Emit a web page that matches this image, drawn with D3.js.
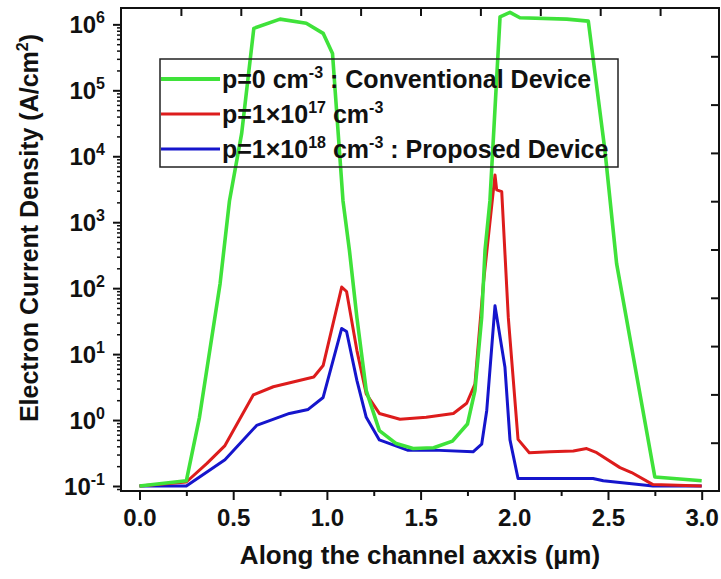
<!DOCTYPE html>
<html>
<head>
<meta charset="utf-8">
<script src="https://cdn.jsdelivr.net/npm/d3@7"></script>
<style>
  body { margin: 0; background: #fff; }
  svg { display: block; font-family: Arial, "Liberation Sans", sans-serif; font-weight: bold; }
</style>
</head>
<body>
<div id="chart"></div>
<script>
// Series data: x in µm, y in A/cm²
const greenX = [0, 0.25, 0.32, 0.43, 0.48, 0.545, 0.61, 0.75, 0.89, 0.98, 1.03, 1.086, 1.12, 1.16, 1.21, 1.28, 1.37, 1.46, 1.57, 1.67, 1.75, 1.79, 1.826, 1.844, 1.87, 1.924, 1.977, 2.03, 2.28, 2.395, 2.484, 2.546, 2.75, 3.0];
const greenY = [0.1, 0.12, 1.1, 117, 2100, 22000, 870000, 1200000, 1040000, 730000, 360000, 2100, 380, 36, 2.8, 0.69, 0.44, 0.37, 0.38, 0.48, 0.87, 2.8, 36, 380, 2100, 1300000, 1520000, 1260000, 1200000, 1120000, 12000, 236, 0.137, 0.12];

const redX = [0, 0.25, 0.36, 0.456, 0.607, 0.714, 0.93, 0.98, 1.079, 1.105, 1.16, 1.21, 1.28, 1.39, 1.53, 1.675, 1.746, 1.79, 1.835, 1.897, 1.906, 1.933, 1.968, 2.02, 2.08, 2.19, 2.315, 2.386, 2.44, 2.564, 2.626, 2.74, 3.0];
const redY = [0.1, 0.115, 0.22, 0.41, 2.4, 3.2, 4.5, 6.7, 104, 89, 11.4, 2.5, 1.26, 1.03, 1.1, 1.26, 1.8, 3.5, 117, 5200, 3100, 2900, 36, 0.51, 0.32, 0.33, 0.34, 0.37, 0.32, 0.19, 0.16, 0.105, 0.1];

const blueX = [0, 0.25, 0.456, 0.625, 0.8, 0.9, 0.98, 1.079, 1.105, 1.16, 1.21, 1.28, 1.43, 1.57, 1.78, 1.826, 1.853, 1.897, 1.95, 1.977, 2.02, 2.42, 2.475, 2.74, 3.0];
const blueY = [0.1, 0.1, 0.25, 0.83, 1.26, 1.45, 2.2, 24.5, 22, 4, 1.1, 0.5, 0.35, 0.35, 0.33, 0.43, 1.4, 54, 6.4, 0.5, 0.13, 0.13, 0.12, 0.1, 0.1];

const xTicks = [0, 0.5, 1.0, 1.5, 2.0, 2.5, 3.0];
const xMinorTicks = [0.25, 0.75, 1.25, 1.75, 2.25, 2.75];
const yExponents = [-1, 0, 1, 2, 3, 4, 5, 6];

const legendItems = [
    { color: "#3fe23a", width: 4, parts: [["p=0 cm", ""], ["-3", "sup"], [" : Conventional Device", ""]] },
    { color: "#dd1c1c", width: 3, parts: [["p=1×10", ""], ["17", "sup"], [" cm", ""], ["-3", "sup"]] },
    { color: "#1515cc", width: 3, parts: [["p=1×10", ""], ["18", "sup"], [" cm", ""], ["-3", "sup"], [" : Proposed Device", ""]] }
];

const W = 721, H = 579;
const margin = { top: 8, right: 1, bottom: 88, left: 121 };
const innerW = W - margin.left - margin.right;
const innerH = H - margin.top - margin.bottom;

const svg = d3.select("#chart").append("svg")
    .attr("width", W)
    .attr("height", H);

// 1. Scales
const x = d3.scaleLinear().domain([-0.0987, 3.0977]).range([margin.left, margin.left + innerW]);
const y = d3.scaleLog().domain([0.084, 1.77e6]).range([margin.top + innerH, margin.top]);
// unlabeled mirror axes (top/right) in Origin style
const xTop = d3.scaleLinear().domain([0, 10]).range([margin.left, margin.left + innerW]);
const yRight = d3.scaleLinear().domain([0, 10]).range([margin.top + innerH, margin.top]);

// 2. Lines
const line = d3.line()
    .x(d => x(d[0]))
    .y(d => y(d[1]));

const series = [
    { xs: blueX, ys: blueY, color: legendItems[2].color, width: 3 },
    { xs: redX, ys: redY, color: legendItems[1].color, width: 3 },
    { xs: greenX, ys: greenY, color: legendItems[0].color, width: 3.6 }
];
series.forEach(s => {
    svg.append("path")
        .datum(d3.zip(s.xs, s.ys))
        .attr("fill", "none")
        .attr("stroke", s.color)
        .attr("stroke-width", s.width)
        .attr("stroke-linejoin", "round")
        .attr("d", line);
});

// 3. Axes
const bottom = margin.top + innerH;
svg.append("g")
    .attr("transform", `translate(0,${bottom})`)
    .call(d3.axisBottom(x).tickValues(xTicks).tickSize(9).tickFormat(d3.format(".1f")).tickPadding(9))
    .call(g => g.select(".domain").remove())
    .call(g => g.selectAll("line").attr("stroke", "#111").attr("stroke-width", 2))
    .call(g => g.selectAll("text").attr("fill", "#111").attr("font-size", 24).attr("font-family", null));
svg.append("g")
    .attr("transform", `translate(0,${bottom})`)
    .call(d3.axisBottom(x).tickValues(xMinorTicks).tickSize(5).tickFormat(""))
    .call(g => g.select(".domain").remove())
    .call(g => g.selectAll("line").attr("stroke", "#111").attr("stroke-width", 2));

// log axis: major decades + minor 2..9
const minorY = [];
yExponents.forEach(e => { for (let k = 2; k <= 9; k++) minorY.push(k * Math.pow(10, e)); });
minorY.push(0.09);
svg.append("g")
    .attr("transform", `translate(${margin.left},0)`)
    .call(d3.axisLeft(y).tickValues(minorY.filter(v => v <= 1.77e6 && v >= 0.084)).tickSize(4).tickFormat(""))
    .call(g => g.select(".domain").remove())
    .call(g => g.selectAll("line").attr("stroke", "#111").attr("stroke-width", 1.5));
svg.append("g")
    .attr("transform", `translate(${margin.left},0)`)
    .call(d3.axisLeft(y).tickValues(yExponents.map(e => Math.pow(10, e))).tickSize(8).tickFormat(""))
    .call(g => g.select(".domain").remove())
    .call(g => g.selectAll("line").attr("stroke", "#111").attr("stroke-width", 2));

// y tick labels as 10^n with superscript
const yLab = svg.append("g").attr("fill", "#111");
yExponents.forEach(e => {
    const t = yLab.append("text")
        .attr("x", 105)
        .attr("y", y(Math.pow(10, e)) + 9)
        .attr("text-anchor", "end")
        .attr("font-size", 24);
    t.append("tspan").text("10");
    t.append("tspan").attr("dy", -10).attr("font-size", 16).text(e);
});

// mirror ticks, top and right (inward)
svg.append("g")
    .attr("transform", `translate(0,${margin.top})`)
    .call(d3.axisTop(xTop).tickValues(d3.range(1, 10)).tickSize(-8).tickFormat(""))
    .call(g => g.select(".domain").remove())
    .call(g => g.selectAll("line").attr("stroke", "#111").attr("stroke-width", 2));
svg.append("g")
    .attr("transform", `translate(${margin.left + innerW - 1},0)`)
    .call(d3.axisRight(yRight).tickValues(d3.range(1, 10)).tickSize(-8).tickFormat(""))
    .call(g => g.select(".domain").remove())
    .call(g => g.selectAll("line").attr("stroke", "#111").attr("stroke-width", 2));

// plot frame
svg.append("rect")
    .attr("x", margin.left)
    .attr("y", margin.top)
    .attr("width", innerW - 1)
    .attr("height", innerH)
    .attr("fill", "none")
    .attr("stroke", "#111")
    .attr("stroke-width", 2);

// 4. Axis titles
svg.append("text")
    .attr("x", 420)
    .attr("y", 564)
    .attr("text-anchor", "middle")
    .attr("font-size", 26)
    .attr("fill", "#111")
    .text("Along the channel axxis (µm)");

const yTitle = svg.append("text")
    .attr("transform", "translate(38,228) rotate(-90)")
    .attr("text-anchor", "middle")
    .attr("font-size", 25)
    .attr("fill", "#111");
yTitle.append("tspan").text("Electron Current Density (A/cm");
yTitle.append("tspan").attr("dy", -10).attr("font-size", 16).text("2");
yTitle.append("tspan").attr("dy", 10).text(")");

// 5. Legend
const legend = svg.append("g");
legend.append("rect")
    .attr("x", 160).attr("y", 59)
    .attr("width", 458).attr("height", 108)
    .attr("fill", "none")
    .attr("stroke", "#222")
    .attr("stroke-width", 1.5);
const rowY = [79, 114, 149];
legendItems.forEach((item, i) => {
    legend.append("line")
        .attr("x1", 161).attr("x2", 220)
        .attr("y1", rowY[i]).attr("y2", rowY[i])
        .attr("stroke", item.color)
        .attr("stroke-width", item.width);
    const t = legend.append("text")
        .attr("x", 222)
        .attr("y", rowY[i] + 9)
        .attr("font-size", 25)
        .attr("fill", "#111");
    let raised = false;
    item.parts.forEach(([txt, kind]) => {
        const sp = t.append("tspan").text(txt);
        if (kind === "sup" && !raised) { sp.attr("dy", -10).attr("font-size", 16); raised = true; }
        else if (kind === "sup") { sp.attr("font-size", 16); }
        else if (raised) { sp.attr("dy", 10); raised = false; }
    });
});
</script>
</body>
</html>
